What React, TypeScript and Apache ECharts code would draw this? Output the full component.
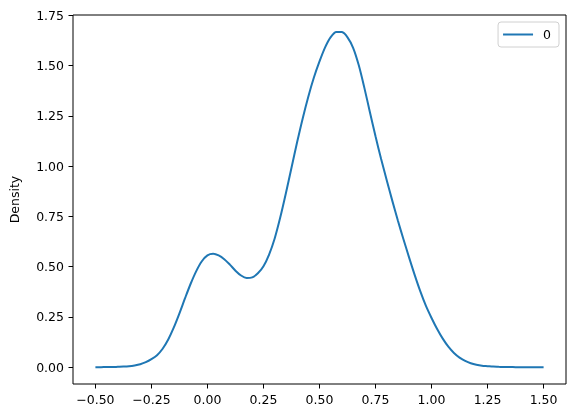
import React, { useEffect, useRef } from "react";
import * as echarts from "echarts";

const xValues = [
  -0.5, -0.475, -0.45, -0.425, -0.4, -0.375, -0.35, -0.325, -0.3, -0.275, -0.25,
  -0.225, -0.2, -0.175, -0.15, -0.125, -0.1, -0.075, -0.05, -0.025, 0.0, 0.025,
  0.05, 0.075, 0.1, 0.125, 0.15, 0.175, 0.2, 0.225, 0.25, 0.275, 0.3, 0.325, 0.35,
  0.375, 0.4, 0.425, 0.45, 0.475, 0.5, 0.525, 0.55, 0.575, 0.6, 0.625, 0.65, 0.675,
  0.7, 0.725, 0.75, 0.775, 0.8, 0.825, 0.85, 0.875, 0.9, 0.925, 0.95, 0.975, 1.0,
  1.025, 1.05, 1.075, 1.1, 1.125, 1.15, 1.175, 1.2, 1.225, 1.25, 1.275, 1.3, 1.325,
  1.35, 1.375, 1.4, 1.425, 1.45, 1.475, 1.5,
];
const densityValues = [
  0.0, 0.0, 0.001, 0.001, 0.002, 0.003, 0.005, 0.009, 0.015, 0.025, 0.04,
  0.06, 0.092, 0.138, 0.198, 0.268, 0.343, 0.415, 0.478, 0.527, 0.556, 0.564,
  0.556, 0.537, 0.51, 0.48, 0.456, 0.444, 0.447, 0.467, 0.502, 0.56, 0.64, 0.745, 0.865,
  0.992, 1.118, 1.237, 1.345, 1.44, 1.52, 1.59, 1.641, 1.667, 1.666, 1.64, 1.588, 1.502,
  1.39, 1.268, 1.148, 1.035, 0.93, 0.827, 0.728, 0.635, 0.545, 0.458, 0.377, 0.305, 0.245,
  0.19, 0.142, 0.102, 0.071, 0.048, 0.032, 0.02, 0.012, 0.007, 0.005, 0.003, 0.002, 0.001,
  0.001, 0.0, 0.0, 0.0, 0.0, 0.0, 0.0,
];
const xTicks = [-0.5, -0.25, 0, 0.25, 0.5, 0.75, 1.0, 1.25, 1.5];
const yTicks = [0, 0.25, 0.5, 0.75, 1.0, 1.25, 1.5, 1.75];
const seriesName = "0";
const yLabel = "Density";

export default function App() {
  const ref = useRef<HTMLDivElement>(null);
  useEffect(() => {
    if (!ref.current) return;
    const chart = echarts.init(ref.current, null, { renderer: "svg" });
    const font = "DejaVu Sans";
    chart.setOption({
      animation: false,
      textStyle: { fontFamily: font },
      grid: {
        left: 70,
        top: 15,
        right: 10,
        bottom: 34,
        show: true,
        borderColor: "#000",
        borderWidth: 1,
        backgroundColor: "transparent",
      },
      legend: {
        right: 17,
        top: 22,
        data: [{ name: seriesName, icon: "rect" }],
        backgroundColor: "#fff",
        borderColor: "#d0d0d0",
        borderWidth: 1,
        borderRadius: 3,
        padding: [6, 8, 6, 5],
        itemWidth: 30,
        itemHeight: 2,
        textStyle: {
          fontFamily: font,
          fontSize: 12.5,
          color: "#000",
          padding: [0, 0, 0, 5],
        },
      },
      xAxis: {
        type: "value",
        min: -0.6,
        max: 1.6,
        splitLine: { show: false },
        axisLine: { show: false, onZero: false },
        axisTick: {
          show: true,
          length: 4.5,
          lineStyle: { color: "#000" },
          customValues: xTicks,
        },
        axisLabel: {
          customValues: xTicks,
          margin: 9,
          fontFamily: font,
          fontSize: 12.5,
          color: "#000",
          formatter: (v: number) => v.toFixed(2).replace("-", "\u2212"),
        },
      },
      yAxis: {
        type: "value",
        min: -0.0834,
        max: 1.751,
        name: yLabel,
        nameLocation: "middle",
        nameGap: 52,
        nameTextStyle: { fontFamily: font, fontSize: 12.5, color: "#000" },
        splitLine: { show: false },
        axisLine: { show: false, onZero: false },
        axisTick: {
          show: true,
          length: 4.5,
          lineStyle: { color: "#000" },
          customValues: yTicks,
        },
        axisLabel: {
          customValues: yTicks,
          margin: 9,
          fontFamily: font,
          fontSize: 12.5,
          color: "#000",
          formatter: (v: number) => v.toFixed(2),
        },
      },
      series: [
        {
          name: seriesName,
          type: "line",
          data: xValues.map((x, i) => [x, densityValues[i]]),
          smooth: 0.3,
          symbol: "none",
          lineStyle: { color: "#1f77b4", width: 2 },
          itemStyle: { color: "#1f77b4" },
        },
      ],
    });
    return () => chart.dispose();
  }, []);
  return (
    <div
      ref={ref}
      style={{ position: "fixed", left: 0, top: 0, width: 576, height: 418 }}
    />
  );
}
